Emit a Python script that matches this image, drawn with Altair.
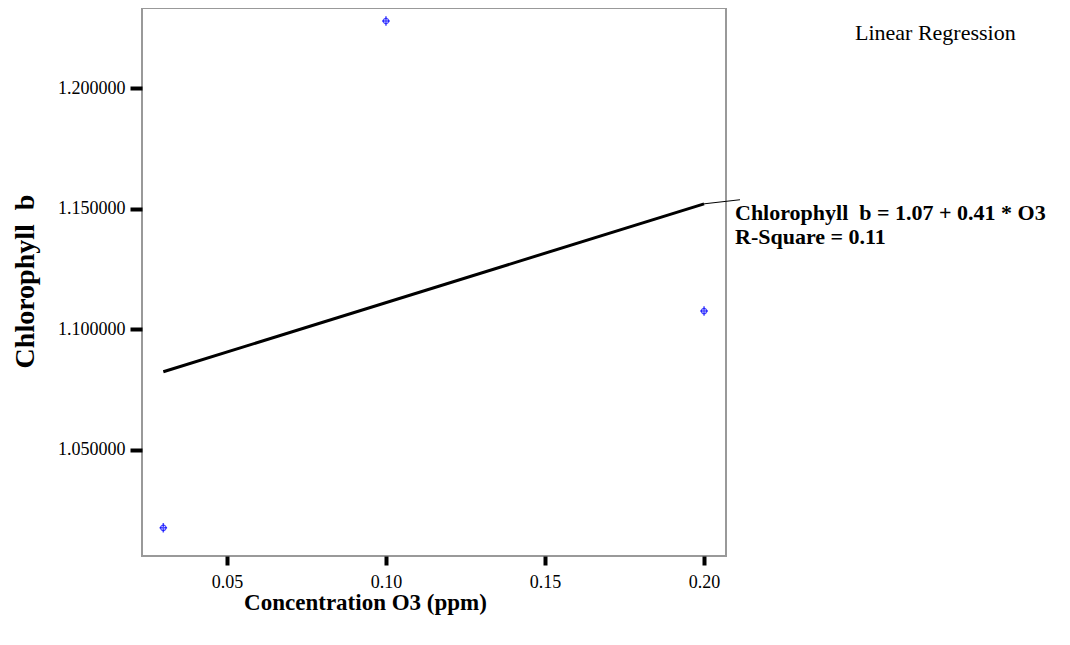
import altair as alt
import pandas as pd

# Data
o3_ppm = [0.03, 0.10, 0.20]
chlorophyll_b = [1.0175, 1.2279, 1.1075]

# fitted line as printed on the chart
intercept = 1.07
slope = 0.41
fit_x = [0.03, 0.20]

x_ticks = [0.05, 0.10, 0.15, 0.20]
y_ticks = [1.05, 1.10, 1.15, 1.20]

x_domain = [0.0233, 0.2069]
y_domain = [1.0058, 1.2333]

eq_label = "Chlorophyll\u00a0\u00a0b = 1.07 + 0.41 * O3"
r2_label = "R-Square = 0.11"
method_label = "Linear Regression"
y_title = "Chlorophyll\u00a0\u00a0b"
x_title = "Concentration O3 (ppm)"

df = pd.DataFrame({"O3": o3_ppm, "ChlB": chlorophyll_b})
fit_df = pd.DataFrame({"O3": fit_x})

SERIF = "Liberation Serif"

xs = alt.Scale(domain=x_domain, nice=False, zero=False)
ys = alt.Scale(domain=y_domain, nice=False, zero=False)

x_axis = alt.Axis(
    values=x_ticks, format=".2f", grid=False, domain=False,
    tickColor="black", tickWidth=4, tickSize=9,
    labelFont=SERIF, labelFontSize=18, labelColor="black", labelPadding=8,
    title=x_title, titleFont=SERIF, titleFontSize=23,
    titleFontWeight="bold", titleColor="black",
    titleX=223, titleY=46, titleAnchor="middle", titleAlign="center",
    titleBaseline="middle",
)
y_axis = alt.Axis(
    values=y_ticks, format=".6f", grid=False, domain=False,
    tickColor="black", tickWidth=4, tickSize=12,
    labelFont=SERIF, labelFontSize=18, labelColor="black", labelPadding=5,
    title=y_title, titleFont=SERIF, titleFontSize=28,
    titleFontWeight="bold", titleColor="black",
    titleX=-117, titleY=273, titleAngle=-90, titleAlign="center",
    titleBaseline="middle",
)

reg = alt.Chart(fit_df).transform_calculate(
    ChlB=f"{intercept} + {slope} * datum.O3"
).mark_line(color="black", strokeWidth=3).encode(
    x=alt.X("O3:Q", scale=xs, axis=x_axis),
    y=alt.Y("ChlB:Q", scale=ys, axis=y_axis),
)

base = alt.Chart(df)
circles = base.mark_point(
    shape="circle", size=30, color="blue", filled=False, strokeWidth=1.2
).encode(x=alt.X("O3:Q", scale=xs), y=alt.Y("ChlB:Q", scale=ys))

plus = base.mark_point(
    shape="M0,-1L0,1M-0.8,0L0.8,0", size=90, color="blue", filled=False,
    strokeWidth=1.5,
).encode(x=alt.X("O3:Q", scale=xs), y=alt.Y("ChlB:Q", scale=ys))

# leader line from the end of the regression line to its label
end_df = pd.DataFrame({"x": [0.20], "x2": [0.2113], "y2": [1.1537]})
leader = alt.Chart(end_df).transform_calculate(
    y=f"{intercept} + {slope} * datum.x"
).mark_rule(color="black", strokeWidth=1, clip=False).encode(
    x=alt.X("x:Q", scale=xs), y=alt.Y("y:Q", scale=ys),
    x2="x2:Q", y2="y2:Q",
)

lab_df = pd.DataFrame({"x": [0.2113], "y": [1.1537], "t": [[eq_label, r2_label]]})
label = alt.Chart(lab_df).mark_text(
    align="left", baseline="top", font=SERIF, fontSize=22, fontWeight="bold",
    color="black", lineHeight=24, dx=-5, dy=3, clip=False,
).encode(x=alt.X("x:Q", scale=xs), y=alt.Y("y:Q", scale=ys), text="t:N")

method = alt.Chart(pd.DataFrame({"t": [method_label]})).mark_text(
    align="left", baseline="alphabetic", font=SERIF, fontSize=22, color="black",
    clip=False,
).encode(x=alt.value(713), y=alt.value(32), text="t:N")

chart = alt.layer(reg, circles, plus, leader, label, method).properties(
    width=584, height=548,
    background="white",
    autosize=alt.AutoSizeParams(type="none"),
    padding={"left": 134, "top": 0, "right": 330, "bottom": 80},
).configure_view(stroke="#999999", strokeWidth=2)

chart.save("out.html", embed_options={"renderer": "svg", "actions": False})
